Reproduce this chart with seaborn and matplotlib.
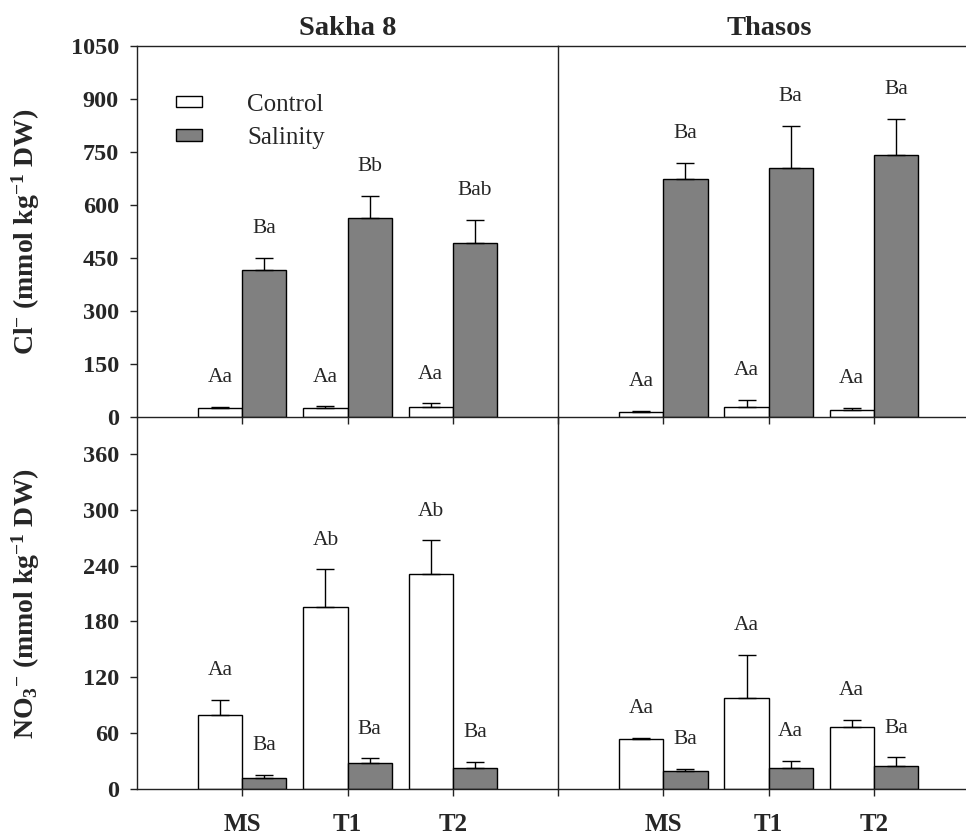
import numpy as np
import pandas as pd
import matplotlib
matplotlib.use('Agg')
import matplotlib.pyplot as plt
import seaborn as sns

# 数据：均值与误差
treatments = ['MS', 'T1', 'T2']
conditions = ['Control', 'Salinity']
cultivars = ['Sakha 8', 'Thasos']

# Cl- (mmol kg-1 DW)
cl_sakha_ctrl = [28, 28, 31]
cl_sakha_ctrl_err = [3, 4, 9]
cl_sakha_sal = [418, 565, 492]
cl_sakha_sal_err = [34, 62, 66]
cl_thasos_ctrl = [16, 31, 22]
cl_thasos_ctrl_err = [2, 18, 5]
cl_thasos_sal = [673, 706, 743]
cl_thasos_sal_err = [47, 118, 102]

# NO3- (mmol kg-1 DW)
no3_sakha_ctrl = [79, 196, 231]
no3_sakha_ctrl_err = [17, 40, 36]
no3_sakha_sal = [12, 28, 23]
no3_sakha_sal_err = [3, 5, 6]
no3_thasos_ctrl = [54, 98, 67]
no3_thasos_ctrl_err = [1, 46, 7]
no3_thasos_sal = [19, 23, 25]
no3_thasos_sal_err = [3, 7.5, 9]

# 显著性字母
cl_sakha_ctrl_lab = ['Aa', 'Aa', 'Aa']
cl_sakha_sal_lab = ['Ba', 'Bb', 'Bab']
cl_thasos_ctrl_lab = ['Aa', 'Aa', 'Aa']
cl_thasos_sal_lab = ['Ba', 'Ba', 'Ba']
no3_sakha_ctrl_lab = ['Aa', 'Ab', 'Ab']
no3_sakha_sal_lab = ['Ba', 'Ba', 'Ba']
no3_thasos_ctrl_lab = ['Aa', 'Aa', 'Aa']
no3_thasos_sal_lab = ['Ba', 'Aa', 'Ba']

sns.set_style('ticks')
plt.rcParams['font.family'] = ['Liberation Serif', 'DejaVu Serif']
plt.rcParams['mathtext.fontset'] = 'custom'
plt.rcParams['mathtext.rm'] = 'Liberation Serif'
plt.rcParams['mathtext.bf'] = 'Liberation Serif:bold'
plt.rcParams['mathtext.it'] = 'Liberation Serif:italic'

palette = {'Control': 'white', 'Salinity': '#808080'}


def draw_panel(ax, ctrl, ctrl_err, sal, sal_err, ctrl_lab, sal_lab):
    """画一个面板：分组柱状图 + 单向误差线 + 字母标注"""
    df = pd.DataFrame({
        'treatment': treatments * 2,
        'condition': ['Control'] * 3 + ['Salinity'] * 3,
        'value': list(ctrl) + list(sal),
    })
    sns.barplot(data=df, x='treatment', y='value', hue='condition',
                order=treatments, hue_order=conditions, palette=palette,
                edgecolor='black', linewidth=1.0, width=0.84, gap=0,
                errorbar=None, legend=False, ax=ax)

    errs = [e for pair in zip(ctrl_err, sal_err) for e in pair]
    labs = [l for pair in zip(ctrl_lab, sal_lab) for l in pair]
    bars = sorted(ax.patches, key=lambda p: p.get_x())
    for bar, e, lab in zip(bars, errs, labs):
        x = bar.get_x() + bar.get_width() / 2
        h = bar.get_height()
        ax.errorbar(x, h, yerr=[[0], [e]], fmt='none', ecolor='black',
                    elinewidth=1.0, capsize=6.5, capthick=1.0)
        ax.annotate(lab, (x, h + e), xytext=(0, 21), textcoords='offset points',
                    ha='center', va='center', fontsize=15.5)
    return bars


fig, axes = plt.subplots(2, 2, figsize=(9.66, 8.36), dpi=100, sharey='row',
                         gridspec_kw={'width_ratios': [4, 3.875],
                                      'wspace': 0, 'hspace': 0})
fig.subplots_adjust(left=0.1418, right=1.0, top=0.945, bottom=0.0562)

bars = draw_panel(axes[0, 0], cl_sakha_ctrl, cl_sakha_ctrl_err, cl_sakha_sal,
                  cl_sakha_sal_err, cl_sakha_ctrl_lab, cl_sakha_sal_lab)
draw_panel(axes[0, 1], cl_thasos_ctrl, cl_thasos_ctrl_err, cl_thasos_sal,
           cl_thasos_sal_err, cl_thasos_ctrl_lab, cl_thasos_sal_lab)
draw_panel(axes[1, 0], no3_sakha_ctrl, no3_sakha_ctrl_err, no3_sakha_sal,
           no3_sakha_sal_err, no3_sakha_ctrl_lab, no3_sakha_sal_lab)
draw_panel(axes[1, 1], no3_thasos_ctrl, no3_thasos_ctrl_err, no3_thasos_sal,
           no3_thasos_sal_err, no3_thasos_ctrl_lab, no3_thasos_sal_lab)

# 坐标轴设置
for r in range(2):
    for c in range(2):
        ax = axes[r, c]
        ax.patch.set_visible(False)  # 透明背景，避免遮住上方面板的底边
        ax.set_xlabel('')
        ax.set_ylabel('')
        ax.spines['right'].set_visible(False)
        ax.spines['top'].set_visible(r == 0)
        for sp in ax.spines.values():
            sp.set_linewidth(1.0)
            sp.set_color('#222222')
        ax.tick_params(direction='out', length=5, width=1.0, color='#222222')
        if c == 0:
            ax.set_xlim(-1, 3)
            ax.set_xticks([0, 1, 2])
            xt = treatments
        else:
            ax.set_xlim(-1, 2.875)
            ax.set_xticks([-1, 0, 1, 2])
            xt = [''] + treatments
            ax.tick_params(axis='y', left=False, labelleft=False)
        if r == 1:
            ax.set_xticklabels(xt, fontsize=18, fontweight='bold')
            ax.tick_params(axis='x', pad=12)
        else:
            ax.set_xticklabels([''] * len(xt))

axes[0, 0].set_ylim(0, 1050)
axes[0, 0].set_yticks(np.arange(0, 1051, 150))
axes[1, 0].set_ylim(0, 399)
axes[1, 0].set_yticks(np.arange(0, 361, 60))
for ax in axes[:, 0]:
    for t in ax.get_yticklabels():
        t.set_fontsize(17.5)
        t.set_fontweight('bold')
    ax.tick_params(axis='y', pad=8)
    ax.yaxis.set_label_coords(-0.225, 0.5)

axes[0, 0].set_ylabel(r'Cl$^{\mathbf{-}}$ (mmol kg$^{\mathbf{-1}}$ DW)',
                      fontsize=20, fontweight='bold')
axes[1, 0].set_ylabel(r'NO$_{\mathbf{3}}$$^{\mathbf{-}}$ (mmol kg$^{\mathbf{-1}}$ DW)',
                      fontsize=20, fontweight='bold')

axes[0, 0].set_title(cultivars[0], fontsize=20.5, fontweight='bold', pad=8)
axes[0, 1].set_title(cultivars[1], fontsize=20.5, fontweight='bold', pad=8, x=0.517)

# 图例
axes[0, 0].legend(handles=[bars[0], bars[1]], labels=conditions,
                  loc='upper left', bbox_to_anchor=(0.093, 0.872),
                  frameon=False, fontsize=18, borderpad=0, borderaxespad=0,
                  handlelength=1.04, handleheight=0.35, handletextpad=1.8,
                  labelspacing=0.45)

fig.savefig('out.png', dpi=100)
